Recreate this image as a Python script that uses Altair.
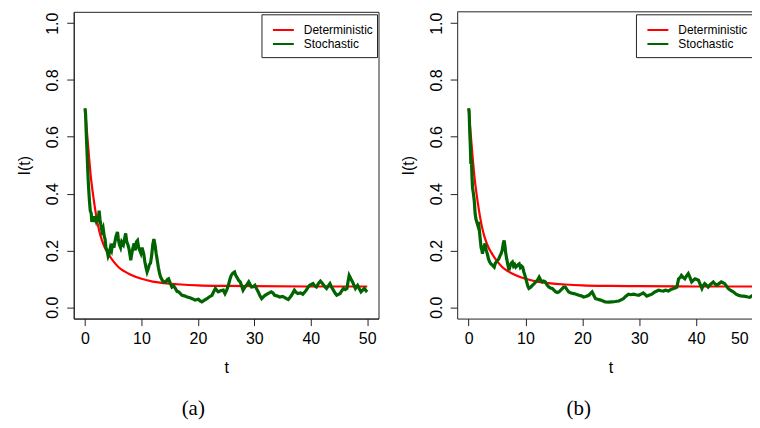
import altair as alt
import pandas as pd

# ---------------- data ----------------
det_t = [0, 0.25, 0.5, 0.75, 1.0, 1.5, 2.0, 2.5, 3.0, 3.5, 4.0, 5.0, 6.0, 7.0, 8.0,
         10.0, 12.0, 14.0, 17.0, 20.0, 25.0, 30.0, 40.0, 50.0]
det_i = [0.70, 0.64, 0.58, 0.52, 0.465, 0.385, 0.32, 0.27, 0.235, 0.21, 0.192, 0.162,
         0.14, 0.126, 0.115, 0.10, 0.09, 0.085, 0.08, 0.077, 0.075, 0.074, 0.073, 0.073]

sto_a_t = [0.0, 0.1, 0.2, 0.35, 0.45, 0.58, 0.7, 0.8, 0.93, 1.1, 1.2, 1.35, 1.5, 1.7, 1.94,
           2.1, 2.3, 2.5, 2.65, 2.8, 3.0, 3.2, 3.4, 3.55, 3.7, 3.9, 4.1, 4.3, 4.5, 4.7,
           4.9, 5.1, 5.3, 5.5, 5.75, 5.9, 6.1, 6.3, 6.5, 6.8, 7.0, 7.2, 7.4, 7.6, 7.8,
           8.0, 8.1, 8.3, 8.5, 8.7, 8.9, 9.1, 9.3, 9.5, 9.7, 9.9, 10.1, 10.4, 10.6, 10.8,
           11.0, 11.2, 11.4, 11.6, 11.8, 12.0, 12.2, 12.4, 12.6, 12.8, 13.0, 13.2, 13.4,
           13.7, 14.0, 14.3, 14.6, 14.8, 15.1, 15.4, 15.7, 16.0, 16.3, 16.6, 16.9, 17.2,
           17.6, 18.1, 18.6, 19.0, 19.5, 20.1, 20.4, 20.7, 21.1, 21.6, 22.0, 22.5, 22.8,
           23.1, 23.4, 23.6, 24.0, 24.5, 24.8, 25.1, 25.4, 25.7, 25.9, 26.2, 26.5, 26.7,
           26.9, 27.2, 27.5, 27.8, 28.0, 28.3, 28.6, 29.0, 29.3, 29.5, 29.8, 30.1, 30.4,
           30.7, 31.0, 31.3, 31.6, 31.9, 32.4, 33.0, 33.3, 33.6, 34.0, 34.5, 35.0, 35.4,
           35.7, 36.0, 36.3, 36.6, 37.1, 37.4, 37.7, 38.2, 38.6, 39.0, 39.2, 39.5, 39.8,
           40.1, 40.4, 40.7, 41.0, 41.4, 41.7, 42.0, 42.3, 42.6, 42.8, 43.1, 43.4, 43.7,
           44.0, 44.3, 44.6, 44.9, 45.2, 45.5, 45.8, 46.1, 46.4, 46.6, 46.8, 47.1, 47.4,
           47.7, 47.9, 48.1, 48.3, 48.6, 48.9, 49.2, 49.5, 49.8, 50.0]
sto_a_i = [0.70, 0.68, 0.62, 0.55, 0.50, 0.44, 0.40, 0.37, 0.34, 0.33, 0.30, 0.32, 0.30, 0.32, 0.305,
           0.32, 0.30, 0.34, 0.31, 0.29, 0.27, 0.28, 0.25, 0.24, 0.21, 0.20, 0.18, 0.19, 0.21, 0.20,
           0.224, 0.21, 0.23, 0.25, 0.265, 0.24, 0.22, 0.21, 0.23, 0.22, 0.24, 0.26, 0.23, 0.22, 0.205,
           0.18, 0.165, 0.19, 0.21, 0.225, 0.20, 0.23, 0.235, 0.21, 0.20, 0.19, 0.21, 0.188, 0.16, 0.14,
           0.124, 0.135, 0.15, 0.155, 0.18, 0.22, 0.24, 0.22, 0.19, 0.165, 0.14, 0.12, 0.106,
           0.095, 0.088, 0.089, 0.098, 0.10, 0.085, 0.071, 0.075, 0.066, 0.056, 0.054, 0.048, 0.042,
           0.040, 0.036, 0.033, 0.030, 0.025, 0.028, 0.022, 0.019, 0.024, 0.030, 0.036, 0.042, 0.055,
           0.066, 0.058, 0.054, 0.058, 0.060, 0.048, 0.060, 0.077, 0.100, 0.112, 0.120, 0.124, 0.112,
           0.106, 0.095, 0.089, 0.072, 0.060, 0.070, 0.077, 0.089, 0.078, 0.071, 0.072, 0.077, 0.065,
           0.054, 0.040, 0.030, 0.036, 0.042, 0.048, 0.054, 0.050, 0.042, 0.040, 0.036, 0.038, 0.034,
           0.030, 0.027, 0.034, 0.042, 0.060, 0.052, 0.048, 0.050, 0.046, 0.055, 0.060, 0.070, 0.077,
           0.080, 0.083, 0.075, 0.071, 0.085, 0.092, 0.085, 0.077, 0.070, 0.066, 0.075, 0.083, 0.070,
           0.060, 0.050, 0.042, 0.045, 0.048, 0.058, 0.066, 0.062, 0.066, 0.090, 0.112, 0.100, 0.089,
           0.075, 0.066, 0.072, 0.077, 0.065, 0.054, 0.060, 0.066, 0.058, 0.062]

sto_b_t = [0.0, 0.1, 0.2, 0.3, 0.4, 0.5, 0.6, 0.7, 0.85, 1.0, 1.15, 1.3, 1.45, 1.6, 1.75, 1.9,
           2.05, 2.2, 2.35, 2.45, 2.6, 2.75, 2.9, 3.1, 3.3, 3.5, 3.7, 3.9, 4.1, 4.3, 4.5, 4.7,
           4.9, 5.1, 5.3, 5.5, 5.7, 5.9, 6.1, 6.25, 6.4, 6.5, 6.7, 6.9, 7.1, 7.3, 7.5, 7.7,
           7.9, 8.1, 8.3, 8.5, 8.7, 8.9, 9.1, 9.3, 9.5, 9.7, 10.0, 10.2, 10.4, 10.6, 10.9,
           11.2, 11.5, 11.8, 12.1, 12.4, 12.7, 12.95, 13.2, 13.5, 13.8, 14.1, 14.4, 14.7,
           15.0, 15.3, 15.6, 15.9, 16.2, 16.5, 16.7, 17.0, 17.3, 17.6, 18.0, 18.5, 19.0,
           19.4, 19.8, 20.2, 20.6, 21.1, 21.4, 21.7, 22.0, 22.3, 22.7, 23.2, 23.6, 24.0,
           24.6, 25.2, 25.8, 26.4, 26.8, 27.2, 27.6, 28.1, 28.5, 29.0, 29.4, 29.9, 30.3,
           30.7, 31.0, 31.3, 31.7, 32.2, 32.6, 33.1, 33.4, 33.8, 34.2, 34.6, 35.1, 35.5,
           36.0, 36.3, 36.6, 36.8, 36.9, 37.2, 37.4, 37.7, 38.0, 38.3, 38.6, 38.9, 39.2,
           39.5, 39.8, 40.1, 40.4, 40.7, 41.0, 41.2, 41.5, 41.8, 42.1, 42.5, 43.0, 43.3,
           43.6, 44.0, 44.4, 44.7, 45.0, 45.3, 45.6, 46.0, 46.5, 47.0, 47.4, 47.8, 48.2,
           48.6, 49.1, 49.4, 49.7, 50.0]
sto_b_i = [0.70, 0.69, 0.62, 0.574, 0.504, 0.52, 0.46, 0.42, 0.40, 0.375, 0.33, 0.31, 0.30, 0.29, 0.30, 0.27,
           0.24, 0.21, 0.20, 0.188, 0.21, 0.215, 0.224, 0.20, 0.188, 0.17, 0.16, 0.153, 0.15, 0.145, 0.141, 0.155,
           0.16, 0.165, 0.17, 0.18, 0.188, 0.20, 0.225, 0.235, 0.215, 0.194, 0.17, 0.15, 0.13, 0.145, 0.155, 0.159,
           0.145, 0.15, 0.141, 0.145, 0.15, 0.153, 0.14, 0.145, 0.141, 0.125, 0.106, 0.09, 0.075, 0.066, 0.070,
           0.077, 0.082, 0.089, 0.095, 0.106, 0.095, 0.089, 0.092, 0.089, 0.078, 0.071, 0.068, 0.066,
           0.060, 0.054, 0.052, 0.054, 0.060, 0.066, 0.071, 0.071, 0.062, 0.054, 0.050, 0.048, 0.045,
           0.042, 0.040, 0.036, 0.038, 0.042, 0.048, 0.054, 0.042, 0.030, 0.028, 0.025, 0.022, 0.019,
           0.018, 0.019, 0.020, 0.022, 0.026, 0.030, 0.038, 0.046, 0.044, 0.046, 0.044, 0.042, 0.046,
           0.050, 0.045, 0.039, 0.042, 0.046, 0.052, 0.057, 0.060, 0.058, 0.057, 0.060, 0.057, 0.062,
           0.066, 0.068, 0.071, 0.090, 0.100, 0.105, 0.112, 0.105, 0.100, 0.110, 0.118, 0.105, 0.089,
           0.095, 0.100, 0.098, 0.095, 0.080, 0.066, 0.075, 0.083, 0.078, 0.071, 0.080, 0.089, 0.082,
           0.077, 0.083, 0.089, 0.086, 0.083, 0.075, 0.066, 0.060, 0.054, 0.046, 0.042, 0.040, 0.039,
           0.038, 0.036, 0.035, 0.039, 0.042]

x_ticks = [0, 10, 20, 30, 40, 50]
y_ticks = [0.0, 0.2, 0.4, 0.6, 0.8, 1.0]
series_names = ["Deterministic", "Stochastic"]
captions = ["(a)", "(b)"]

RED = "#FF0000"
GREEN = "#006400"
FONT = "Liberation Sans"
one_row = pd.DataFrame({"k": [0]})


def panel(sto_t, sto_i, width, xmax, caption, caption_x, title_x, leg_dx, boxed):
    det_df = pd.DataFrame({"t": det_t, "I": det_i})
    sto_df = pd.DataFrame({"t": sto_t, "I": sto_i})
    if boxed:
        l_align = "center"
        l_off = 0
    else:
        # keep the last label inside the visible page
        l_align = {"condition": {"test": "datum.value == 50", "value": "right"}, "value": "center"}
        l_off = {"condition": {"test": "datum.value == 50", "value": -5}, "value": 0}
    x_enc = alt.X(
        "t:Q",
        scale=alt.Scale(domain=[-2, xmax], nice=False, zero=False),
        axis=alt.Axis(values=x_ticks, title="t", grid=False, tickSize=7,
                      labelPadding=18, labelBaseline="alphabetic", labelFlush=False,
                      labelAlign=l_align, labelOffset=l_off,
                      labelOverlap=False, titleX=title_x, titleY=54,
                      titleBaseline="alphabetic", titleAlign="center"),
    )
    y_enc = alt.Y(
        "I:Q",
        scale=alt.Scale(domain=[-0.04, 1.04], nice=False, zero=False),
        axis=alt.Axis(values=y_ticks, format=".1f", title="I(t)", grid=False, tickSize=7,
                      labelAngle=270, labelAlign="center", labelBaseline="alphabetic",
                      labelPadding=9, labelFlush=False, labelOverlap=False,
                      titleAngle=270, titleX=-49, titleY=154, titleAlign="center",
                      titleBaseline="middle"),
    )
    det_line = alt.Chart(det_df).mark_line(color=RED, strokeWidth=2.2, interpolate="monotone").encode(x=x_enc, y=y_enc)
    sto_line = alt.Chart(sto_df).mark_line(color=GREEN, strokeWidth=3.2).encode(x=x_enc, y=y_enc)

    box_right = min(305 + leg_dx, width - 0.5) if boxed else width - 0.5
    leg_box = alt.Chart(one_row).mark_rect(fill="white", stroke="#222", strokeWidth=1, clip=True).encode(
        x=alt.value(189 + leg_dx), x2=alt.value(box_right), y=alt.value(3), y2=alt.value(46))
    leg_r1 = alt.Chart(one_row).mark_rule(color=RED, strokeWidth=2, clip=True).encode(
        x=alt.value(200 + leg_dx), x2=alt.value(221 + leg_dx), y=alt.value(18.3))
    leg_r2 = alt.Chart(one_row).mark_rule(color=GREEN, strokeWidth=2, clip=True).encode(
        x=alt.value(200 + leg_dx), x2=alt.value(221 + leg_dx), y=alt.value(32.3))
    leg_t1 = alt.Chart(one_row).mark_text(text=series_names[0], align="left", baseline="alphabetic",
                                          font=FONT, fontSize=12, color="black", clip=True).encode(
        x=alt.value(231 + leg_dx), y=alt.value(22.6))
    leg_t2 = alt.Chart(one_row).mark_text(text=series_names[1], align="left", baseline="alphabetic",
                                          font=FONT, fontSize=12, color="black", clip=True).encode(
        x=alt.value(231 + leg_dx), y=alt.value(36.6))
    cap = alt.Chart(one_row).mark_text(text=caption, align="center", baseline="alphabetic",
                                       font="Liberation Serif", fontSize=21, color="black").encode(
        x=alt.value(caption_x), y=alt.value(404.5))

    layers = [det_line, sto_line, leg_box, leg_r1, leg_r2, leg_t1, leg_t2, cap]
    if not boxed:
        top = alt.Chart(one_row).mark_rule(color="#222", strokeWidth=1).encode(y=alt.value(0))
        layers.append(top)
    ch = alt.layer(*layers).properties(width=width, height=308)
    if not boxed:
        ch = ch.properties(view=alt.ViewBackground(stroke="transparent"))
    return ch


pa = panel(sto_a_t, sto_a_i, 306, 52, captions[0], 120, 153, 0, True)
pb = panel(sto_b_t, sto_b_i, 302, 50.85, captions[1], 122, 154, -9, False)

chart = alt.hconcat(pa, pb, spacing=79, bounds="flush").properties(
    padding={"left": 8, "top": 2, "right": -9, "bottom": 0},
    background="white",
).configure_view(stroke="#222", strokeWidth=1).configure_axis(
    domainColor="#222", domainWidth=1, tickColor="#222", tickWidth=1,
    labelFont=FONT, labelFontSize=16, labelColor="black",
    titleFont=FONT, titleFontSize=16, titleFontWeight="normal", titleColor="black",
)

chart.save("out.html", embed_options={"renderer": "svg", "actions": False})
